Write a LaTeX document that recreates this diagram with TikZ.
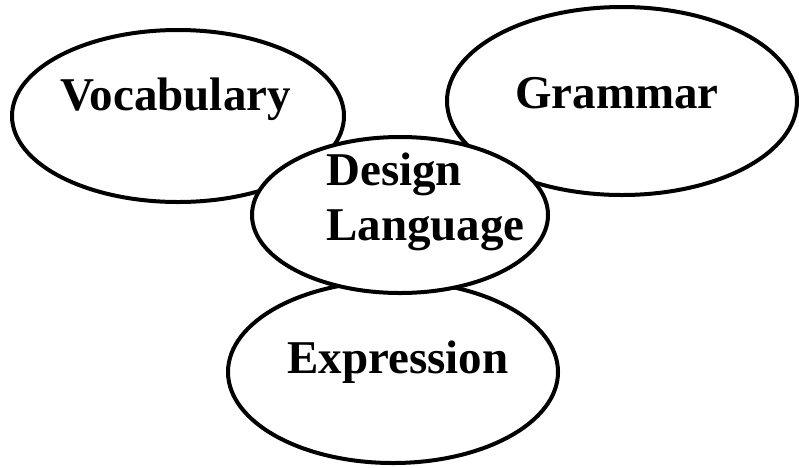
\documentclass[tikz,border=0pt]{standalone}
\usepackage{fontspec}
\setmainfont{Liberation Serif}
\usetikzlibrary{shapes.geometric}
\begin{document}
\begin{tikzpicture}[x=1pt, y=-1pt,
  bubble/.style={ellipse, draw=black, fill=white, line width=4pt, inner sep=0pt},
  word/.style={anchor=base west, inner sep=0pt, font=\fontsize{47}{55}\selectfont\bfseries}]
  \useasboundingbox (0,0) rectangle (799,467);
  % outer bubbles
  \node[bubble, minimum width=332pt, minimum height=172pt] (vocab) at (178,116) {};
  \node[bubble, minimum width=350pt, minimum height=188pt] (gram) at (622,101) {};
  \node[bubble, minimum width=330pt, minimum height=182pt] (expr) at (393,372) {};
  % central bubble on top
  \node[bubble, minimum width=296pt, minimum height=156pt] (design) at (400,215) {};
  % labels
  \node[word] (vocabtext) at (60,110) {Vocabulary};
  \node[word] (gramtext) at (515,108) {Grammar};
  \node[word] (exprtext) at (287,373) {Expression};
  \node[word] (designtext) at (326,185) {Design};
  \node[word] (langtext) at (326,240) {Language};
\end{tikzpicture}
\end{document}
